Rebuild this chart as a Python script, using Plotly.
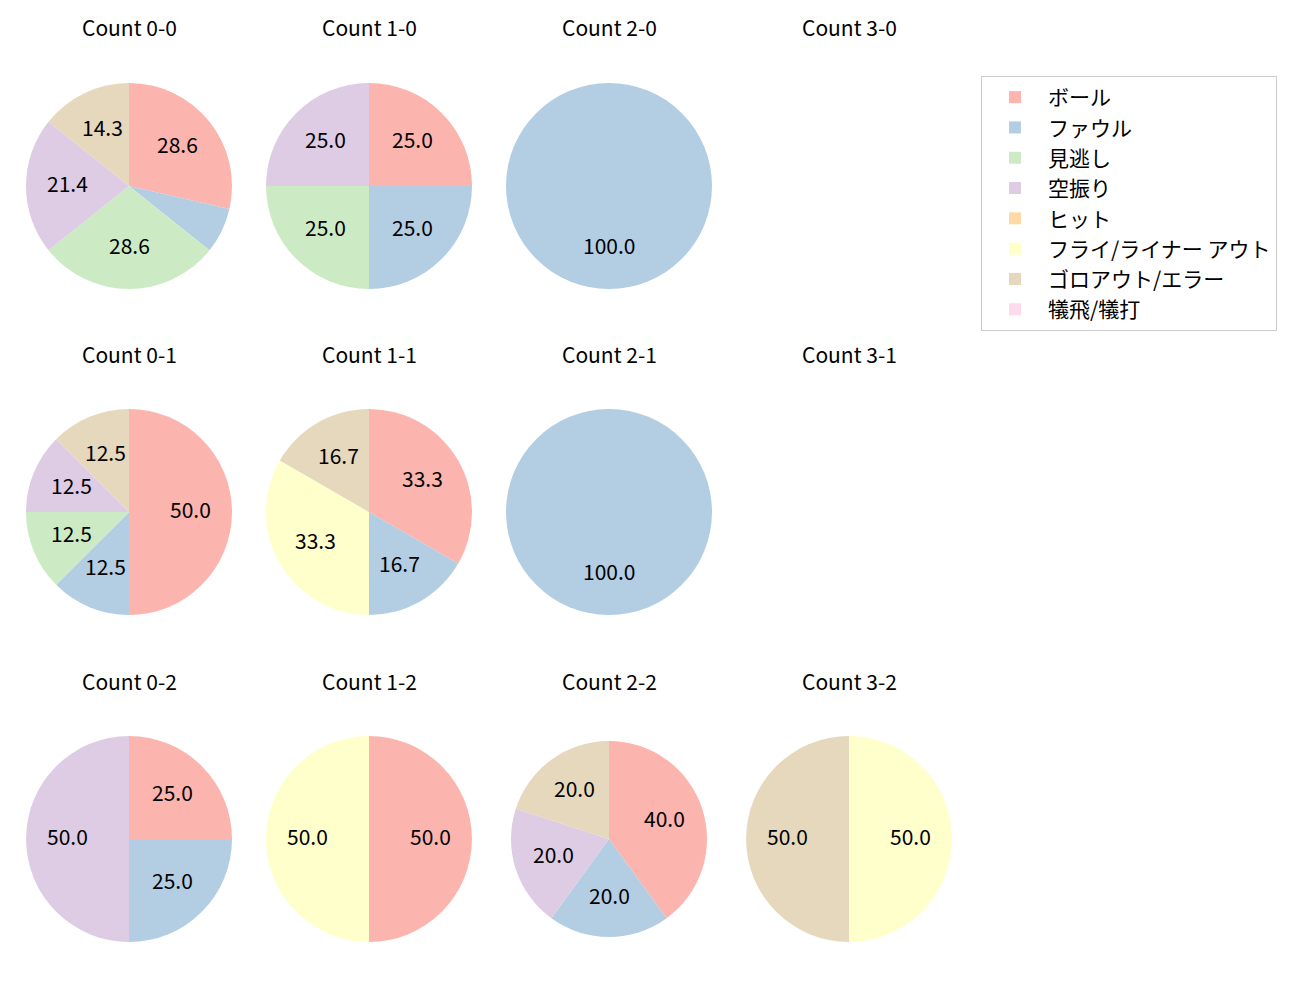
import math
import plotly.graph_objects as go

W, H = 1300, 1000

categories = ["ボール", "ファウル", "見逃し", "空振り", "ヒット",
              "フライ/ライナー アウト", "ゴロアウト/エラー", "犠飛/犠打"]
colors = ["#fbb4ae", "#b3cde3", "#ccebc5", "#decbe4", "#fed9a6",
          "#ffffcc", "#e5d8bd", "#fddaec"]

titles = ["Count 0-0", "Count 1-0", "Count 2-0", "Count 3-0",
          "Count 0-1", "Count 1-1", "Count 2-1", "Count 3-1",
          "Count 0-2", "Count 1-2", "Count 2-2", "Count 3-2"]

# counts per category (order as categories)
c_0_0 = [4, 1, 4, 3, 0, 0, 2, 0]
c_1_0 = [1, 1, 1, 1, 0, 0, 0, 0]
c_2_0 = [0, 1, 0, 0, 0, 0, 0, 0]
c_3_0 = [0, 0, 0, 0, 0, 0, 0, 0]
c_0_1 = [4, 1, 1, 1, 0, 0, 1, 0]
c_1_1 = [2, 1, 0, 0, 0, 2, 1, 0]
c_2_1 = [0, 1, 0, 0, 0, 0, 0, 0]
c_3_1 = [0, 0, 0, 0, 0, 0, 0, 0]
c_0_2 = [1, 1, 0, 2, 0, 0, 0, 0]
c_1_2 = [1, 0, 0, 0, 0, 1, 0, 0]
c_2_2 = [2, 1, 0, 1, 0, 0, 1, 0]
c_3_2 = [0, 0, 0, 0, 0, 1, 1, 0]

data = [c_0_0, c_1_0, c_2_0, c_3_0,
        c_0_1, c_1_1, c_2_1, c_3_1,
        c_0_2, c_1_2, c_2_2, c_3_2]

col_cx = [129, 369, 609, 849]
row_cy = [186, 512, 839]
radius = [103] * 12
radius[10] = 98
title_y = [28, 355, 682]

FONT = "Noto Sans CJK JP"
FS = 21

fig = go.Figure()
annotations = []
legend_done = False
for i, vals in enumerate(data):
    r_i, c_i = divmod(i, 4)
    cx, cy, rad = col_cx[c_i], row_cy[r_i], radius[i]
    annotations.append(dict(x=cx / W, y=1 - title_y[r_i] / H, xref="paper", yref="paper",
                            text=titles[i], showarrow=False, yshift=1,
                            font=dict(family=FONT, size=FS, color="#000"),
                            xanchor="center", yanchor="middle"))
    total = sum(vals)
    if total == 0:
        continue
    fig.add_trace(go.Pie(
        labels=categories, values=vals, sort=False, direction="clockwise",
        rotation=0, textinfo="none", hoverinfo="label+percent",
        marker=dict(colors=colors, line=dict(width=0)),
        domain=dict(x=[(cx - rad) / W, (cx + rad) / W],
                    y=[1 - (cy + rad) / H, 1 - (cy - rad) / H]),
        showlegend=not legend_done,
    ))
    legend_done = True
    cum = 0
    for v in vals:
        if v == 0:
            continue
        pct = 100 * v / total
        mid = math.radians(90 - 360 * (cum + v / 2) / total)
        cum += v
        if pct < 10:
            continue
        lx = cx + 0.6 * rad * math.cos(mid)
        ly = cy - 0.6 * rad * math.sin(mid)
        annotations.append(dict(x=lx / W, y=1 - ly / H, xref="paper", yref="paper",
                                text=f"{pct:.1f}", showarrow=False, yshift=3,
                                font=dict(family=FONT, size=FS, color="#000"),
                                xanchor="center", yanchor="middle"))

fig.update_layout(
    width=W, height=H,
    margin=dict(l=0, r=0, t=0, b=0),
    paper_bgcolor="white", plot_bgcolor="white",
    annotations=annotations,
    legend=dict(x=981 / W, y=1 - 76 / H, xanchor="left", yanchor="top",
                bordercolor="#cccccc", borderwidth=1, itemwidth=56,
                font=dict(family=FONT, size=FS, color="#000"),
                traceorder="normal", tracegroupgap=0),
    font=dict(family=FONT),
)

fig.write_html("out.html", config={"displayModeBar": False},
               post_script="document.body.style.margin='0';")
